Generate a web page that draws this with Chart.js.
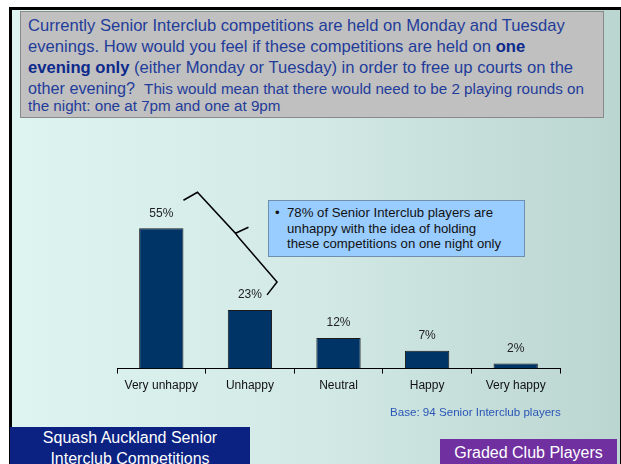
<!DOCTYPE html>
<html>
<head>
<meta charset="utf-8">
<script src="https://cdn.jsdelivr.net/npm/chart.js@4"></script>
<style>
  html, body { margin:0; padding:0; width:621px; height:464px; overflow:hidden; background:#fff; }
  #slide { position:absolute; left:9px; top:7px; width:608px; height:460px; border:3px solid #000; border-bottom:none;
           background:linear-gradient(to right, #ddf4f0 0%, #d2e9e5 50%, #bbd5d1 100%); }
  #q { position:absolute; left:20px; top:11px; width:582px; height:105px; background:#c0c0c0; border:1px solid #8a8a8a;
       font-family:"Liberation Sans", Arial, sans-serif; color:#1f3c9a; white-space:nowrap; }
  #q .l { position:absolute; left:7px; }
  #q b { color:#0c2a8c; }
  #callout { position:absolute; left:268px; top:200px; width:255px; height:55px; background:#99ccff; border:1px solid #6f8fae;
             font-family:"Liberation Sans", Arial, sans-serif; font-size:13.2px; color:#111; line-height:15.5px; white-space:nowrap; }
  #base { position:absolute; left:390px; top:405px; font-family:"Liberation Sans", Arial, sans-serif; font-size:11.6px; color:#2a55b5; white-space:nowrap; }
  #navy { position:absolute; left:10px; top:427px; width:240px; height:40px; background:#0b2283; color:#fff;
          font-family:"Liberation Sans", Arial, sans-serif; font-size:16px; line-height:21px; text-align:center; overflow:hidden; }
  #purple { position:absolute; left:440px; top:439px; width:177px; height:28px; background:#7030a0; color:#fff;
          font-family:"Liberation Sans", Arial, sans-serif; font-size:16px; line-height:28px; text-align:center; }
  canvas { position:absolute; left:0; top:0; }
</style>
</head>
<body>
<div id="slide"></div>
<div id="q">
  <div class="l" style="top:4px;font-size:16.6px;">Currently Senior Interclub competitions are held on Monday and Tuesday</div>
  <div class="l" style="top:25px;font-size:16.6px;">evenings. How would you feel if these competitions are held on <b>one</b></div>
  <div class="l" style="top:46px;font-size:16.6px;"><b>evening only</b> (either Monday or Tuesday) in order to free up courts on the</div>
  <div class="l" style="top:67px;font-size:16.2px;">other evening?&nbsp; <span style="font-size:15.2px;">This would mean that there would need to be 2 playing rounds on</span></div>
  <div class="l" style="top:85px;font-size:15.2px;">the night: one at 7pm and one at 9pm</div>
</div>
<canvas id="c" width="621" height="464"></canvas>
<div id="callout">
  <div style="position:absolute;left:6px;top:4px;">•</div>
  <div style="position:absolute;left:18px;top:4px;">78% of Senior Interclub players are<br>unhappy with the idea of holding<br>these competitions on one night only</div>
</div>
<div id="base">Base: 94 Senior Interclub players</div>
<div id="navy">Squash Auckland Senior<br>Interclub Competitions</div>
<div id="purple">Graded Club Players</div>
<script>
const categories = ['Very unhappy', 'Unhappy', 'Neutral', 'Happy', 'Very happy'];
const values = [55, 23, 12, 7, 2];

const labelPlugin = {
  id: 'valueLabels',
  afterDatasetsDraw(chart) {
    const ctx = chart.ctx;
    const meta = chart.getDatasetMeta(0);
    ctx.save();
    ctx.font = '12px "Liberation Sans", Arial, sans-serif';
    ctx.fillStyle = '#222';
    ctx.textAlign = 'center';
    ctx.textBaseline = 'middle';
    meta.data.forEach((bar, i) => {
      ctx.fillText(values[i] + '%', bar.x, bar.y - 15);
    });
    // brace spanning the two "unhappy" bars
    const b0 = meta.data[0], b1 = meta.data[1];
    const r0 = b0.x + b0.width / 2, t0 = b0.y;
    const r1 = b1.x + b1.width / 2, t1 = b1.y;
    ctx.strokeStyle = '#000';
    ctx.lineWidth = 1.5;
    ctx.beginPath();
    ctx.moveTo(r0, t0 - 28);
    ctx.lineTo(r0 + 14, t0 - 36);
    ctx.lineTo(r0 + 52, t0 + 5);
    ctx.lineTo(r0 + 65, t0 - 1);
    ctx.moveTo(r0 + 52, t0 + 5);
    ctx.lineTo(r0 + 55, t0 + 9);
    ctx.lineTo(r1 + 5, t1 - 28);
    ctx.lineTo(r1 - 5, t1 - 15);
    ctx.stroke();
    ctx.restore();
  }
};

new Chart(document.getElementById('c'), {
  type: 'bar',
  data: {
    labels: categories,
    datasets: [{
      data: values,
      backgroundColor: '#003366',
      borderColor: '#1a1a1a',
      borderWidth: 1,
      barPercentage: 0.5,
      categoryPercentage: 1
    }]
  },
  options: {
    responsive: false,
    animation: false,
    events: [],
    layout: { padding: { left: 117, right: 61, top: 190, bottom: 66 } },
    plugins: { legend: { display: false }, tooltip: { enabled: false } },
    scales: {
      x: {
        grid: { display: true, drawOnChartArea: false, drawTicks: true, tickLength: 5, color: '#000', offset: true },
        border: { display: true, color: '#000', width: 1 },
        ticks: { color: '#111', font: { family: '"Liberation Sans", Arial, sans-serif', size: 12 }, padding: 5, maxRotation: 0 }
      },
      y: { display: false, min: 0, max: 70 }
    }
  },
  plugins: [labelPlugin]
});
</script>
</body>
</html>
